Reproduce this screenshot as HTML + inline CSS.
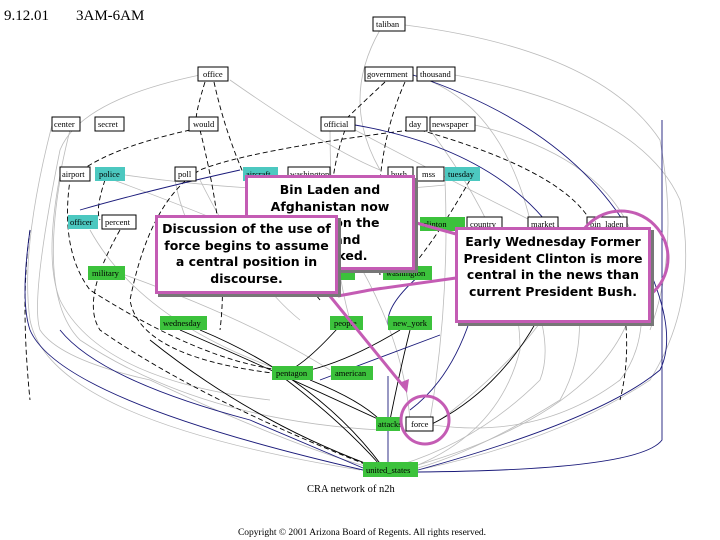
<!DOCTYPE html>
<html><head><meta charset="utf-8"><style>
html,body{margin:0;padding:0;background:#fff;}
body{width:720px;height:540px;overflow:hidden;position:relative;}
svg{position:absolute;left:0;top:0;}
.n{font-family:"Liberation Serif",serif;font-size:8.5px;}
.cb{position:absolute;background:#fff;border:3px solid #c45cb4;box-shadow:3px 3px 0 #777;font-family:"DejaVu Sans",sans-serif;font-weight:bold;font-size:12.5px;line-height:16.5px;text-align:center;color:#000;box-sizing:border-box;}
</style></head><body>
<svg width="720" height="540" viewBox="0 0 720 540">
<text x="4" y="20" font-family="Liberation Serif,serif" font-size="15">9.12.01</text>
<text x="76" y="20" font-family="Liberation Serif,serif" font-size="15">3AM-6AM</text>
<g fill="none" stroke="#bbb" stroke-width="0.8">
<path d="M405,25 Q600,50 660,140 Q680,250 650,330"/>
<path d="M200,75 Q80,100 60,150 Q30,300 40,330 Q60,360 150,380 Q300,450 380,470"/>
<path d="M52,125 Q20,250 30,320 Q50,420 360,470"/>
<path d="M380,30 Q340,100 380,170"/>
<path d="M455,75 Q640,110 680,200 Q700,300 650,380 Q560,440 418,470"/>
<path d="M475,125 Q620,160 640,260 Q640,400 418,465"/>
<path d="M100,175 Q250,230 330,270"/>
<path d="M125,175 Q300,200 445,185"/>
<path d="M200,180 Q250,280 300,320"/>
<path d="M330,125 Q330,250 350,320"/>
<path d="M430,130 Q520,250 520,350 Q500,430 418,465"/>
<path d="M558,225 Q600,330 560,400 Q480,450 418,468"/>
<path d="M502,230 Q560,330 540,380 Q480,440 400,465"/>
<path d="M90,230 Q140,320 280,370"/>
<path d="M125,275 Q250,320 330,370"/>
<path d="M70,130 Q40,250 60,300 Q100,380 270,400"/>
<path d="M300,180 Q400,300 410,420"/>
<path d="M445,180 Q450,300 430,420"/>
<path d="M590,225 Q560,330 440,420"/>
<path d="M627,225 Q660,330 620,380 Q540,440 433,425"/>
<path d="M230,80 Q330,150 380,170"/>
<path d="M355,130 Q450,180 530,220"/>
<path d="M60,180 Q40,300 80,340 Q200,420 380,430"/>
<path d="M175,180 Q190,260 250,290"/>
<path d="M413,75 Q500,100 530,220"/>
</g>
<g fill="none" stroke="#000" stroke-width="0.9" stroke-dasharray="5,3">
<path d="M205,82 Q190,130 200,125"/>
<path d="M214,82 Q240,200 320,300"/>
<path d="M200,130 Q230,250 220,330"/>
<path d="M190,130 Q100,150 70,180 Q60,250 90,290 Q200,360 280,370"/>
<path d="M385,82 Q355,110 345,120"/>
<path d="M405,82 Q370,160 380,275"/>
<path d="M345,130 Q320,200 340,270"/>
<path d="M420,130 Q560,170 590,220"/>
<path d="M470,180 Q430,250 400,280"/>
<path d="M410,130 Q250,150 200,170 Q150,200 130,300 Q140,360 290,375"/>
<path d="M105,180 Q95,210 100,220"/>
<path d="M120,230 Q80,300 100,330 Q200,400 380,470"/>
<path d="M30,230 Q20,300 30,400"/>
<path d="M600,225 Q640,320 620,400"/>
</g>
<g fill="none" stroke="#000" stroke-width="0.9">
<path d="M180,330 Q250,360 380,420"/>
<path d="M200,330 Q320,380 385,470"/>
<path d="M280,375 Q340,420 380,465"/>
<path d="M310,380 Q360,400 380,420"/>
<path d="M345,320 Q310,360 290,370"/>
<path d="M400,330 Q350,360 310,370"/>
<path d="M150,340 Q250,420 370,465"/>
<path d="M410,330 Q400,370 390,420"/>
<path d="M560,270 Q520,380 430,425"/>
</g>
<g fill="none" stroke="#1a1a7a" stroke-width="0.9">
<path d="M30,230 Q20,300 30,330 Q60,400 363,470"/>
<path d="M80,210 Q150,190 240,170"/>
<path d="M355,125 Q500,150 560,240"/>
<path d="M413,75 Q580,130 640,250 Q680,330 660,370 Q600,420 418,470"/>
<path d="M662,120 L662,440 Q640,470 418,472"/>
<path d="M388,376 L388,462"/>
<path d="M320,380 Q400,350 440,335"/>
<path d="M470,320 Q450,380 410,410"/>
<path d="M420,275 Q380,310 390,330"/>
<path d="M60,330 Q100,380 250,420 Q320,450 363,468"/>
</g>
<g class="n">
<rect x="373" y="17" width="32" height="14" fill="#fff" stroke="#000"/><text x="376" y="27">taliban</text>
<rect x="198" y="67" width="30" height="14" fill="#fff" stroke="#000"/><text x="203" y="77">office</text>
<rect x="365" y="67" width="48" height="14" fill="#fff" stroke="#000"/><text x="367" y="77">government</text>
<rect x="417" y="67" width="38" height="14" fill="#fff" stroke="#000"/><text x="420" y="77">thousand</text>
<rect x="52" y="117" width="28" height="14" fill="#fff" stroke="#000"/><text x="54" y="127">center</text>
<rect x="95" y="117" width="29" height="14" fill="#fff" stroke="#000"/><text x="98" y="127">secret</text>
<rect x="189" y="117" width="29" height="14" fill="#fff" stroke="#000"/><text x="193" y="127">would</text>
<rect x="321" y="117" width="34" height="14" fill="#fff" stroke="#000"/><text x="324" y="127">official</text>
<rect x="406" y="117" width="21" height="14" fill="#fff" stroke="#000"/><text x="409" y="127">day</text>
<rect x="430" y="117" width="45" height="14" fill="#fff" stroke="#000"/><text x="432" y="127">newspaper</text>
<rect x="60" y="167" width="30" height="14" fill="#fff" stroke="#000"/><text x="62" y="177">airport</text>
<rect x="95" y="167" width="30" height="14" fill="#4cc8c0"/><text x="99" y="177">police</text>
<rect x="175" y="167" width="21" height="14" fill="#fff" stroke="#000"/><text x="178" y="177">poll</text>
<rect x="243" y="167" width="35" height="14" fill="#4cc8c0"/><text x="246" y="177">aircraft</text>
<rect x="288" y="167" width="42" height="14" fill="#fff" stroke="#000"/><text x="290" y="177">washington</text>
<rect x="388" y="167" width="25" height="14" fill="#fff" stroke="#000"/><text x="391" y="177">bush</text>
<rect x="417" y="167" width="27" height="14" fill="#fff" stroke="#000"/><text x="422" y="177">mss</text>
<rect x="445" y="167" width="35" height="14" fill="#4cc8c0"/><text x="448" y="177">tuesday</text>
<rect x="68" y="215" width="30" height="14" fill="#4cc8c0"/><text x="70" y="225">officer</text>
<rect x="102" y="215" width="34" height="14" fill="#fff" stroke="#000"/><text x="105" y="225">percent</text>
<rect x="420" y="217" width="45" height="14" fill="#3cc23c"/><text x="423" y="227">clinton</text>
<rect x="467" y="217" width="35" height="14" fill="#fff" stroke="#000"/><text x="470" y="227">country</text>
<rect x="528" y="217" width="30" height="14" fill="#fff" stroke="#000"/><text x="531" y="227">market</text>
<rect x="587" y="217" width="40" height="14" fill="#fff" stroke="#000"/><text x="590" y="227">bin_laden</text>
<rect x="88" y="266" width="37" height="14" fill="#3cc23c"/><text x="92" y="276">military</text>
<rect x="333" y="266" width="22" height="14" fill="#3cc23c"/>
<rect x="383" y="266" width="49" height="14" fill="#3cc23c"/><text x="386" y="276">washington</text>
<rect x="160" y="316" width="47" height="14" fill="#3cc23c"/><text x="163" y="326">wednesday</text>
<rect x="330" y="316" width="33" height="14" fill="#3cc23c"/><text x="334" y="326">people</text>
<rect x="388" y="316" width="44" height="14" fill="#3cc23c"/><text x="393" y="326">new_york</text>
<rect x="272" y="366" width="41" height="14" fill="#3cc23c"/><text x="276" y="376">pentagon</text>
<rect x="331" y="366" width="42" height="14" fill="#3cc23c"/><text x="335" y="376">american</text>
<rect x="376" y="417" width="24" height="14" fill="#3cc23c"/><text x="378" y="427">attacks</text>
<rect x="406" y="417" width="27" height="14" fill="#fff" stroke="#000"/><text x="411" y="427">force</text>
<rect x="363" y="462" width="55" height="15" fill="#3cc23c"/><text x="366" y="473">united_states</text>
<text x="307" y="492" font-size="10.5">CRA network of n2h</text>
</g>
<text x="362" y="535" text-anchor="middle" font-family="Liberation Serif,serif" font-size="9.5">Copyright © 2001 Arizona Board of Regents. All rights reserved.</text>
<g fill="none" stroke="#c45cb4" stroke-width="3">
<circle cx="621" cy="258" r="47"/>
<circle cx="425" cy="420" r="24"/>
<path d="M413,222 L456,234"/>
<path d="M338,296 Q360,292 370,290 L456,278"/>
<path d="M325,290 L404,387"/>
</g>
<polygon points="407,393 399,383 409,379" fill="#c45cb4"/>
</svg>
<div class="cb" style="left:245px;top:175px;width:170px;height:95px;padding-top:4px;">Bin Laden and<br>Afghanistan now<br>appear on the<br>map and<br>are linked.</div>
<div class="cb" style="left:155px;top:215px;width:183px;height:79px;padding-top:3px;">Discussion of the use of<br>force begins to assume<br>a central position in<br>discourse.</div>
<div class="cb" style="left:455px;top:227px;width:196px;height:96px;padding-top:4px;">Early Wednesday Former<br>President Clinton is more<br>central in the news than<br>current President Bush.</div>
</body></html>
